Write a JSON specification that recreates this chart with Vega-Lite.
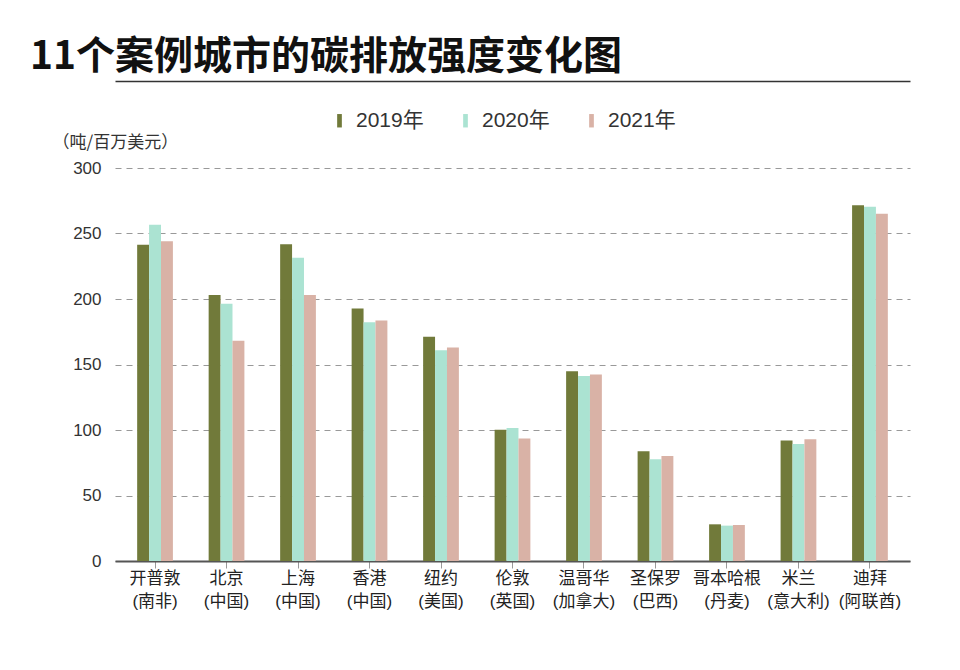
{
  "$schema": "https://vega.github.io/schema/vega-lite/v6.json",
  "width": 795,
  "height": 393,
  "autosize": {"type": "none"},
  "padding": {"left": 115, "top": 168, "right": 50, "bottom": 109},
  "background": "#ffffff",
  "title": {
    "text": "11个案例城市的碳排放强度变化图",
    "anchor": "start",
    "frame": "group",
    "dx": -85,
    "offset": 4,
    "fontSize": 39,
    "fontWeight": "bold",
    "font": "Noto Sans CJK SC",
    "color": "#111111"
  },
  "config": {
    "view": {"stroke": null},
    "font": "Liberation Sans, Noto Sans CJK SC"
  },
  "data": {
    "values": [
      {"city": "开普敦|(南非)", "year": "2019年", "value": 241.4},
      {"city": "开普敦|(南非)", "year": "2020年", "value": 256.7},
      {"city": "开普敦|(南非)", "year": "2021年", "value": 244.0},
      {"city": "北京|(中国)", "year": "2019年", "value": 203.0},
      {"city": "北京|(中国)", "year": "2020年", "value": 196.3},
      {"city": "北京|(中国)", "year": "2021年", "value": 168.1},
      {"city": "上海|(中国)", "year": "2019年", "value": 241.7},
      {"city": "上海|(中国)", "year": "2020年", "value": 231.5},
      {"city": "上海|(中国)", "year": "2021年", "value": 203.0},
      {"city": "香港|(中国)", "year": "2019年", "value": 192.8},
      {"city": "香港|(中国)", "year": "2020年", "value": 182.3},
      {"city": "香港|(中国)", "year": "2021年", "value": 183.6},
      {"city": "纽约|(美国)", "year": "2019年", "value": 171.1},
      {"city": "纽约|(美国)", "year": "2020年", "value": 160.9},
      {"city": "纽约|(美国)", "year": "2021年", "value": 162.9},
      {"city": "伦敦|(英国)", "year": "2019年", "value": 100.1},
      {"city": "伦敦|(英国)", "year": "2020年", "value": 101.6},
      {"city": "伦敦|(英国)", "year": "2021年", "value": 93.5},
      {"city": "温哥华|(加拿大)", "year": "2019年", "value": 144.9},
      {"city": "温哥华|(加拿大)", "year": "2020年", "value": 141.3},
      {"city": "温哥华|(加拿大)", "year": "2021年", "value": 142.3},
      {"city": "圣保罗|(巴西)", "year": "2019年", "value": 83.8},
      {"city": "圣保罗|(巴西)", "year": "2020年", "value": 77.7},
      {"city": "圣保罗|(巴西)", "year": "2021年", "value": 80.2},
      {"city": "哥本哈根|(丹麦)", "year": "2019年", "value": 28.0},
      {"city": "哥本哈根|(丹麦)", "year": "2020年", "value": 27.0},
      {"city": "哥本哈根|(丹麦)", "year": "2021年", "value": 27.5},
      {"city": "米兰|(意大利)", "year": "2019年", "value": 91.9},
      {"city": "米兰|(意大利)", "year": "2020年", "value": 89.4},
      {"city": "米兰|(意大利)", "year": "2021年", "value": 92.9},
      {"city": "迪拜|(阿联酋)", "year": "2019年", "value": 271.5},
      {"city": "迪拜|(阿联酋)", "year": "2020年", "value": 270.4},
      {"city": "迪拜|(阿联酋)", "year": "2021年", "value": 265.1}
    ]
  },
  "layer": [
    {
      "mark": {"type": "bar"},
      "encoding": {
        "x": {
          "field": "city",
          "type": "nominal",
          "sort": null,
          "scale": {"paddingInner": 0.5, "paddingOuter": 0.31},
          "axis": {
            "title": null,
            "orient": "bottom",
            "labelExpr": "split(datum.label, '|')",
            "labelAngle": 0,
            "labelFontSize": 17,
            "labelColor": "#222222",
            "labelLineHeight": 23,
            "labelPadding": 2,
            "labelBaseline": "top",
            "tickSize": 7,
            "tickColor": "#999999",
            "domainColor": "#555555",
            "domainWidth": 2,
            "grid": false
          }
        },
        "xOffset": {"field": "year", "type": "nominal", "sort": ["2019年", "2020年", "2021年"], "scale": {"paddingInner": 0}},
        "y": {
          "field": "value",
          "type": "quantitative",
          "scale": {"domain": [0, 300], "nice": false},
          "axis": {
            "values": [0, 50, 100, 150, 200, 250, 300],
            "title": "（吨/百万美元）",
            "titleAngle": 0,
            "titleX": -63,
            "titleY": -26,
            "titleAlign": "left",
            "titleBaseline": "middle",
            "titleFontSize": 17,
            "titleFontWeight": "normal",
            "titleColor": "#333333",
            "titleFont": "Noto Sans CJK SC",
            "labelFontSize": 17,
            "labelColor": "#333333",
            "labelPadding": 14,
            "domain": false,
            "ticks": false,
            "grid": true,
            "gridDash": [6, 5],
            "gridColor": "#999999",
            "gridWidth": 1
          }
        },
        "color": {
          "field": "year",
          "type": "nominal",
          "sort": ["2019年", "2020年", "2021年"],
          "scale": {"range": ["#717a3a", "#abe3d2", "#d9b2a6"]},
          "legend": {
            "title": null,
            "orient": "none",
            "legendX": 214,
            "legendY": -58,
            "direction": "horizontal",
            "columns": 3,
            "columnPadding": 31,
            "labelFontSize": 21,
            "labelColor": "#333333",
            "labelOffset": 6,
            "symbolType": "M-0.35,-1L0.35,-1L0.35,1L-0.35,1Z",
            "symbolSize": 180,
            "symbolStrokeWidth": 0
          }
        }
      }
    },
    {
      "mark": {"type": "rule", "opacity": 0},
      "encoding": {
        "x": {
          "field": "city",
          "type": "nominal",
          "sort": null,
          "axis": {
            "orient": "top",
            "title": null,
            "labels": false,
            "ticks": false,
            "grid": false,
            "domain": true,
            "domainColor": "#333333",
            "domainWidth": 1.5,
            "offset": 87
          }
        }
      }
    }
  ],
  "resolve": {"axis": {"x": "independent"}}
}
